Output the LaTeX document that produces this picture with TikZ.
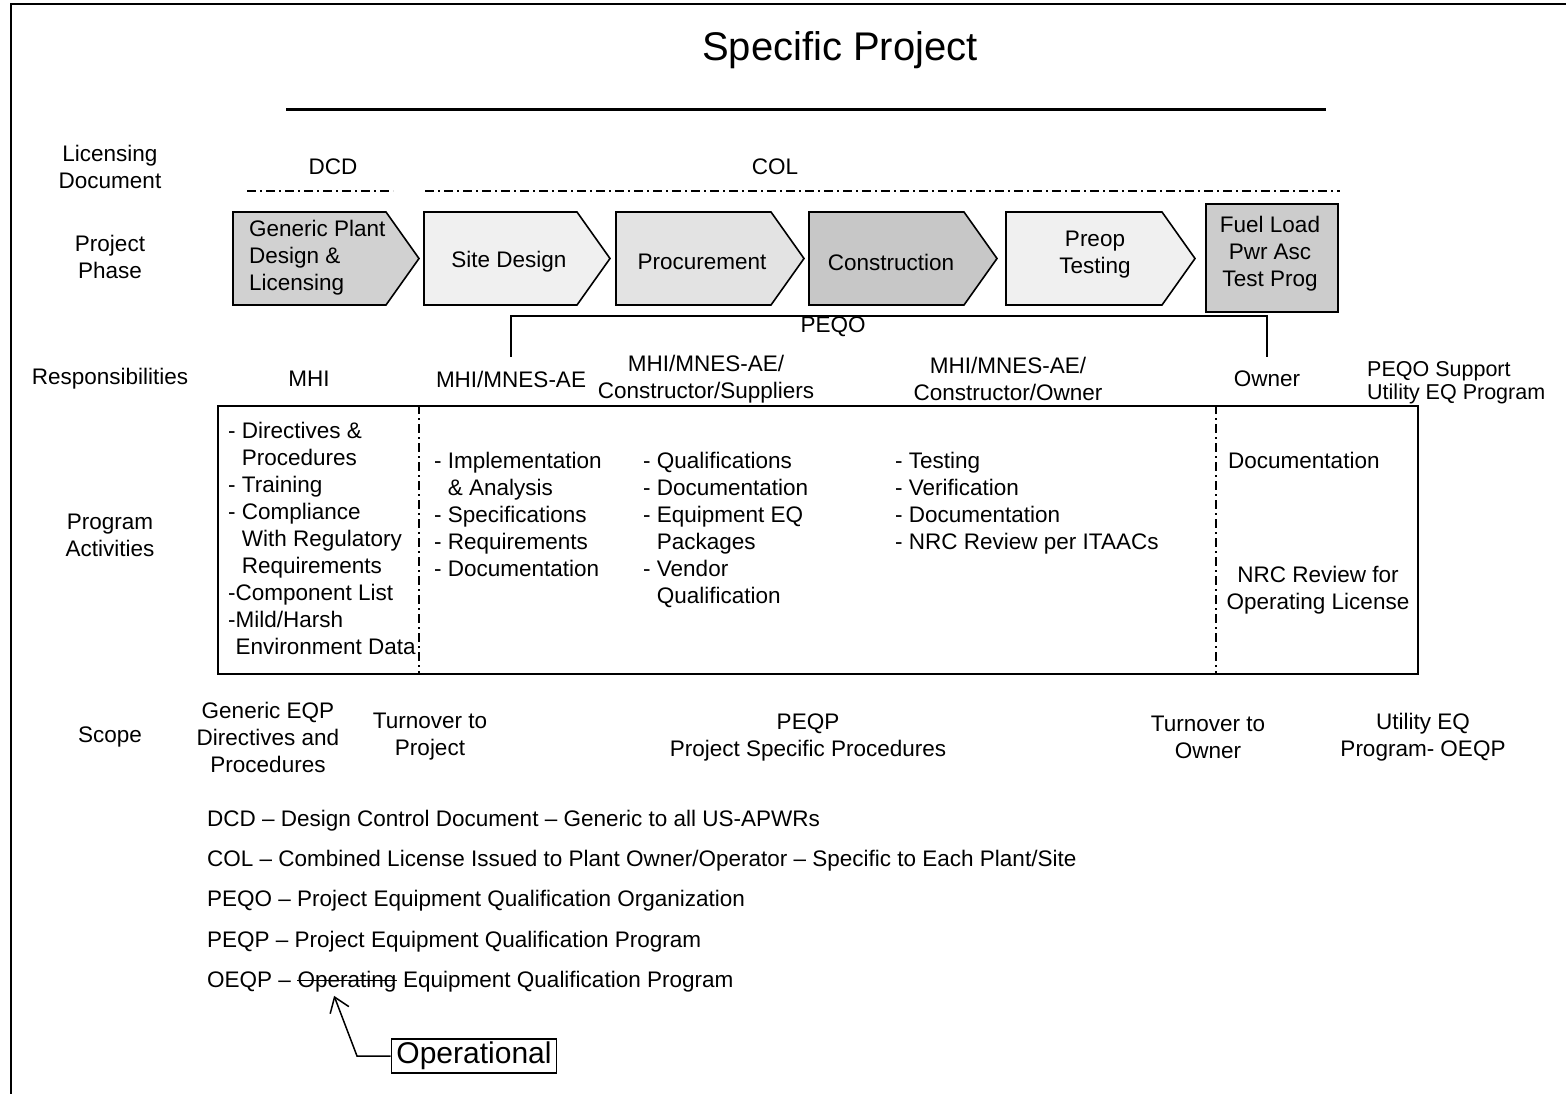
\documentclass[tikz,border=0pt]{standalone}
\usepackage{fontspec}
\setmainfont{Liberation Sans}
\usetikzlibrary{arrows.meta}
\begin{document}
\begin{tikzpicture}[x=1pt,y=-1pt,
  txt/.style={font=\fontsize{22.5}{27}\selectfont, align=center, inner sep=2pt},
  ltxt/.style={txt, align=left},
  legend/.style={font=\fontsize{22.5}{27}\selectfont, inner xsep=0pt, inner ysep=2pt, anchor=base west},
  phase/.style={draw=black, line width=1.6pt, line join=miter},
  ddline/.style={line width=1.8pt, dash pattern=on 9pt off 4pt on 2pt off 4pt},
  bracket/.style={line width=1.6pt},
]
\useasboundingbox (0,0) rectangle (1566,1094);
\fill[white] (0,0) rectangle (1566,1094);
% outer frame
\draw[line width=1.5pt] (11,1094) -- (11,4) -- (1566,4);

% title
\node[font=\fontsize{40}{48}\selectfont, inner sep=0pt] (title) at (840,50) {Specific Project};
\draw[line width=3pt] (286,110) -- (1326,110);

% licensing document row
\node[txt] (lLic) at (110,167) {Licensing\\Document};
\node[txt] (lDCD) at (333,167) {DCD};
\node[txt] (lCOL) at (775,167) {COL};
\draw[ddline] (247,191) -- (393,191);
\draw[ddline] (425,191) -- (1340,191);

% project phase row
\node[txt] (lPhase) at (110,257) {Project\\Phase};
\draw[phase, fill=black!18] (233,212) -- (386,212) -- (419,258.5) -- (386,305) -- (233,305) -- cycle;
\draw[phase, fill=black!6]  (424,212) -- (577,212) -- (610,258.5) -- (577,305) -- (424,305) -- cycle;
\draw[phase, fill=black!11] (616,212) -- (771,212) -- (804,258.5) -- (771,305) -- (616,305) -- cycle;
\draw[phase, fill=black!22] (809,212) -- (964,212) -- (997,258.5) -- (964,305) -- (809,305) -- cycle;
\draw[phase, fill=black!6]  (1006,212) -- (1162,212) -- (1195,258.5) -- (1162,305) -- (1006,305) -- cycle;
\draw[phase, fill=black!20] (1206,204) rectangle (1338,312);

\node[ltxt, anchor=west] (p1) at (247,258) {Generic Plant\\Design \&\\Licensing};
\node[txt] (p2) at (509,262) {Site Design};
\node[txt] (p3) at (702,262) {Procurement};
\node[txt] (p4) at (891,262) {Construction};
\node[txt] (p5) at (1095,255) {Preop\\Testing};
\node[txt] (p6) at (1270,254) {Fuel Load\\Pwr Asc\\Test Prog};

% responsibilities row
\node[txt] (lResp) at (110,379) {Responsibilities};
\node[txt] (r1) at (309,379) {MHI};
\node[txt, outer ysep=12pt] (r2) at (511,379) {MHI/MNES-AE};
\node[txt] (r3) at (706,379) {MHI/MNES-AE/\\Constructor/Suppliers};
\node[txt] (r4) at (1008,379) {MHI/MNES-AE/\\Constructor/Owner};
\node[txt, outer ysep=12pt] (r5) at (1267,379) {Owner};
\node[ltxt, font=\fontsize{21.5}{23}\selectfont, anchor=west] (r6) at (1365,383) {PEQO Support\\Utility EQ Program};

\coordinate (bl) at (511,316);
\coordinate (br) at (1267,316);
\draw[bracket] (r2.north) -- (bl) -- (br) -- (r5.north);
\node[txt] (peqo) at (833,327) {PEQO};

% program activities
\node[txt] (lAct) at (110,535) {Program\\Activities};
\node[draw, line width=1.8pt, minimum width=1200pt, minimum height=268pt, inner sep=0pt] (act) at (818,540) {};
\coordinate (d1) at (419,540);
\coordinate (d2) at (1216,540);
\draw[ddline, line width=1.5pt] (d1 |- act.north) -- (d1 |- act.south);
\draw[ddline, line width=1.5pt] (d2 |- act.north) -- (d2 |- act.south);

\node[ltxt, anchor=north west, inner sep=0pt] (c1) at (228,422) {- Directives \&\\\phantom{- }Procedures\\- Training\\- Compliance\\\phantom{- }With Regulatory\\\phantom{- }Requirements\\-Component List\\-Mild/Harsh\\\phantom{-}Environment Data};
\node[ltxt, anchor=north west, inner sep=0pt] (c2) at (434,452) {- Implementation\\\phantom{- }\& Analysis\\- Specifications\\- Requirements\\- Documentation};
\node[ltxt, anchor=north west, inner sep=0pt] (c3) at (643,452) {- Qualifications\\- Documentation\\- Equipment EQ\\\phantom{- }Packages\\- Vendor\\\phantom{- }Qualification};
\node[ltxt, anchor=north west, inner sep=0pt] (c4) at (895,452) {- Testing\\- Verification\\- Documentation\\- NRC Review per ITAACs};
\node[ltxt, anchor=north west, inner sep=0pt] (c5) at (1228,452) {Documentation};
\node[txt] (c6) at (1318,590) {NRC Review for\\Operating License};

% scope row
\node[txt] (lScope) at (110,737) {Scope};
\node[txt] (s1) at (268,737) {Generic EQP\\Directives and\\Procedures};
\node[txt] (s2) at (430,737) {Turnover to\\Project};
\node[txt] (s3) at (808,737) {PEQP\\Project Specific Procedures};
\node[txt] (s4) at (1208,737) {Turnover to\\Owner};
\node[txt] (s5) at (1423,737) {Utility EQ\\Program- OEQP};

% legend
\node[legend] (g1) at (207,826) {DCD – Design Control Document – Generic to all US-APWRs};
\node[legend] (g2) at (207,866) {COL – Combined License Issued to Plant Owner/Operator – Specific to Each Plant/Site};
\node[legend] (g3) at (207,906) {PEQO – Project Equipment Qualification Organization};
\node[legend] (g4) at (207,947) {PEQP – Project Equipment Qualification Program};
\node[legend] (o1) at (207,987) {OEQP –\kern0.28em};
\node[legend] (o2) at (o1.base east) {Operating};
\node[legend] (o3) at (o2.base east) {\kern0.28em Equipment Qualification Program};
\draw[line width=1.3pt] ([yshift=6.5pt]o2.base west) -- ([yshift=6.5pt]o2.base east);

% correction note
\node[draw, line width=1.6pt, font=\fontsize{30}{36}\selectfont, inner xsep=5pt, inner ysep=3pt] (op) at (474,1056) {Operational};
\coordinate (opk) at (357,1056);
\draw[line width=1.5pt, -{Straight Barb[length=14pt, width=20pt, line width=1.5pt]}] (op.west) -- (opk) -- ([xshift=-13pt, yshift=-2pt]o2.south);
\end{tikzpicture}
\end{document}
